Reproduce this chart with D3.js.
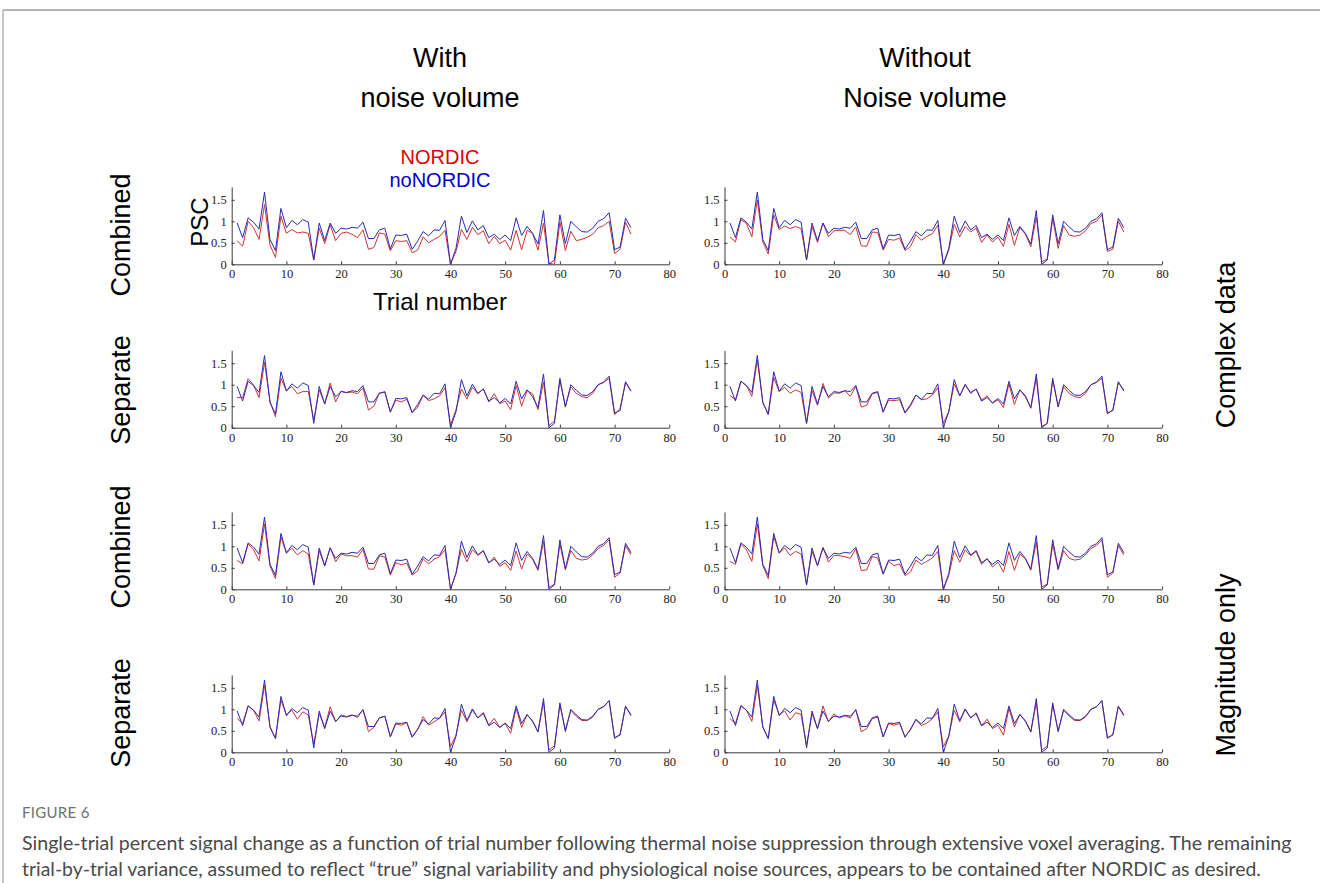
<!DOCTYPE html>
<html>
<head>
<meta charset="utf-8">
<script src="https://cdn.jsdelivr.net/npm/d3@7"></script>
<style>
  body { margin: 0; background: #fff; }
  svg { display: block; }
</style>
</head>
<body>
<svg id="chart" width="1320" height="883"></svg>
<script>
// Data: percent signal change per trial
var noNordic = [0.96,0.62,1.08,0.98,0.82,1.68,0.58,0.32,1.30,0.85,
  1.02,0.92,1.04,0.98,0.10,0.96,0.55,0.96,0.72,0.84,
  0.82,0.86,0.84,0.98,0.60,0.60,0.80,0.84,0.36,0.68,
  0.67,0.70,0.35,0.54,0.76,0.66,0.80,0.79,1.02,0.00,
  0.37,1.12,0.74,1.01,0.80,0.90,0.62,0.70,0.58,0.68,
  0.55,1.08,0.67,0.88,0.72,0.47,1.25,0.00,0.10,1.15,
  0.48,1.00,0.87,0.76,0.75,0.84,1.00,1.06,1.20,0.34,
  0.40,1.07,0.85];

var nordicComplexCombinedWith = [0.55,0.42,1.00,0.85,0.58,1.39,0.45,0.16,1.12,0.72,
  0.81,0.73,0.75,0.72,0.10,0.84,0.48,0.92,0.55,0.72,
  0.75,0.70,0.62,0.80,0.35,0.39,0.73,0.70,0.31,0.55,
  0.53,0.55,0.27,0.33,0.64,0.50,0.58,0.65,0.79,0.00,
  0.30,0.81,0.58,0.86,0.69,0.78,0.48,0.65,0.48,0.56,
  0.33,0.79,0.34,0.79,0.72,0.33,0.96,0.02,0.00,0.98,
  0.32,0.77,0.55,0.58,0.63,0.70,0.85,0.90,1.00,0.25,
  0.35,0.98,0.70];

var nordicComplexCombinedWithout = [0.64,0.52,1.04,0.95,0.64,1.50,0.52,0.24,1.15,0.81,
  0.89,0.83,0.88,0.83,0.10,0.88,0.51,0.96,0.64,0.78,
  0.79,0.79,0.69,0.87,0.43,0.42,0.75,0.74,0.33,0.58,
  0.56,0.61,0.32,0.41,0.69,0.56,0.65,0.71,0.91,0.00,
  0.33,0.93,0.64,0.88,0.75,0.84,0.51,0.68,0.52,0.63,
  0.42,0.93,0.44,0.86,0.70,0.41,1.10,0.06,0.12,1.06,
  0.37,0.90,0.68,0.65,0.68,0.78,0.95,1.00,1.15,0.30,
  0.35,1.00,0.75];

var nordicComplexSeparateWith = [0.70,0.70,1.14,0.99,0.70,1.52,0.62,0.25,1.15,0.86,
  0.96,0.79,0.84,0.84,0.18,0.88,0.56,1.04,0.60,0.85,
  0.81,0.83,0.79,0.93,0.41,0.50,0.81,0.82,0.37,0.64,
  0.60,0.66,0.35,0.48,0.75,0.63,0.67,0.74,0.93,0.06,
  0.42,0.90,0.67,0.94,0.79,0.90,0.60,0.79,0.56,0.62,
  0.42,0.98,0.50,0.86,0.79,0.42,1.06,0.05,0.15,1.10,
  0.50,0.95,0.80,0.72,0.70,0.80,1.00,1.05,1.15,0.30,
  0.45,1.05,0.85];

var nordicComplexSeparateWithout = [0.75,0.65,1.08,0.98,0.73,1.57,0.60,0.30,1.17,0.84,
  0.94,0.80,0.88,0.82,0.10,0.86,0.52,1.03,0.69,0.81,
  0.80,0.86,0.73,0.96,0.48,0.52,0.79,0.82,0.37,0.64,
  0.63,0.65,0.34,0.50,0.76,0.65,0.67,0.76,0.93,0.10,
  0.37,1.02,0.74,0.99,0.82,0.90,0.64,0.74,0.57,0.65,
  0.47,1.02,0.54,0.88,0.75,0.45,1.15,0.03,0.10,1.10,
  0.50,0.95,0.80,0.72,0.70,0.80,1.00,1.05,1.15,0.32,
  0.42,1.05,0.88];

var nordicMagCombinedWith = [0.67,0.59,1.05,0.92,0.66,1.52,0.54,0.25,1.21,0.84,
  0.96,0.80,0.90,0.82,0.10,0.90,0.54,0.97,0.64,0.82,
  0.78,0.78,0.75,0.93,0.47,0.47,0.78,0.75,0.33,0.62,
  0.57,0.61,0.33,0.43,0.71,0.59,0.70,0.76,0.92,0.00,
  0.37,0.93,0.64,0.92,0.79,0.89,0.61,0.75,0.53,0.62,
  0.44,0.89,0.47,0.82,0.70,0.44,1.11,0.04,0.12,1.05,
  0.45,0.90,0.72,0.68,0.70,0.80,0.95,1.02,1.15,0.28,
  0.38,1.02,0.80];

var nordicMagCombinedWithout = [0.65,0.58,1.05,0.92,0.65,1.52,0.55,0.25,1.22,0.84,
  0.96,0.79,0.88,0.82,0.11,0.88,0.55,0.98,0.63,0.79,
  0.78,0.76,0.72,0.94,0.44,0.45,0.76,0.73,0.35,0.65,
  0.55,0.59,0.32,0.40,0.68,0.58,0.65,0.73,0.88,0.00,
  0.32,0.90,0.63,0.92,0.78,0.88,0.58,0.72,0.52,0.63,
  0.40,0.88,0.44,0.82,0.71,0.44,1.10,0.05,0.12,1.05,
  0.45,0.90,0.72,0.68,0.70,0.80,0.95,1.02,1.15,0.28,
  0.38,1.02,0.80];

var nordicMagSeparateWith = [0.79,0.67,1.08,0.98,0.73,1.56,0.60,0.32,1.21,0.87,
  0.98,0.77,0.94,0.87,0.19,0.90,0.58,1.06,0.71,0.87,
  0.83,0.87,0.81,1.00,0.48,0.58,0.80,0.84,0.36,0.66,
  0.63,0.69,0.36,0.53,0.83,0.63,0.71,0.79,0.94,0.13,
  0.40,0.98,0.71,0.98,0.80,0.93,0.63,0.79,0.58,0.67,
  0.44,1.02,0.58,0.87,0.73,0.48,1.16,0.05,0.15,1.10,
  0.52,0.98,0.84,0.74,0.74,0.82,1.00,1.06,1.20,0.32,
  0.42,1.07,0.88];

var nordicMagSeparateWithout = [0.78,0.67,1.09,0.98,0.72,1.55,0.59,0.32,1.21,0.88,
  0.96,0.75,0.92,0.88,0.17,0.90,0.55,1.08,0.71,0.89,
  0.80,0.85,0.80,1.00,0.48,0.55,0.78,0.82,0.36,0.67,
  0.63,0.67,0.36,0.52,0.77,0.62,0.68,0.78,0.94,0.13,
  0.38,0.98,0.71,0.99,0.80,0.92,0.62,0.77,0.55,0.63,
  0.40,1.02,0.59,0.88,0.74,0.48,1.15,0.05,0.14,1.10,
  0.50,0.98,0.84,0.74,0.74,0.82,1.00,1.06,1.20,0.32,
  0.42,1.07,0.88];

var columnTitles = [["With", "noise volume"], ["Without", "Noise volume"]];
var rowLabels = ["Combined", "Separate", "Combined", "Separate"];
var groupLabels = ["Complex data", "Magnitude only"];
var xTicks = [0, 10, 20, 30, 40, 50, 60, 70, 80];
var yTicks = [0, 0.5, 1, 1.5];

// panels in reading order: row by row, left then right
var panels = [
  nordicComplexCombinedWith, nordicComplexCombinedWithout,
  nordicComplexSeparateWith, nordicComplexSeparateWithout,
  nordicMagCombinedWith, nordicMagCombinedWithout,
  nordicMagSeparateWith, nordicMagSeparateWithout
];

// Layout
const colLeft = [231.7, 724.5];
const rowBottom = [264.3, 427.7, 589.3, 752.3];
const plotW = 437.6;
const plotH = 77.4;
const redColor = "#cf3434";
const blueColor = "#2a2ab4";

const svg = d3.select("#chart");

// frame lines
svg.append("line").attr("x1", 3).attr("x2", 1320).attr("y1", 10).attr("y2", 10)
  .style("stroke", "#b5b5b5").style("stroke-width", 2);
svg.append("line").attr("x1", 3).attr("x2", 3).attr("y1", 10).attr("y2", 883)
  .style("stroke", "#b5b5b5").style("stroke-width", 1.5);

const xscale = d3.scaleLinear().domain([0, 80]).range([0, plotW]);
const yscale = d3.scaleLinear().domain([0, 1.8]).range([plotH, 0]);

var line = d3.line()
  .x(function(d, i) { return xscale(i + 1); })
  .y(function(d) { return yscale(d); });

const xaxis = d3.axisBottom(xscale).tickValues(xTicks).tickSizeInner(-3).tickSizeOuter(0).tickPadding(5);
const yaxis = d3.axisLeft(yscale).tickValues(yTicks).tickSizeInner(-3).tickSizeOuter(0).tickPadding(5)
  .tickFormat(d3.format("~g"));

panels.forEach(function(red, k) {
  var r = Math.floor(k / 2), c = k % 2;
  const g = svg.append("g")
    .attr("transform", `translate(${colLeft[c]}, ${rowBottom[r] - plotH})`);

  g.append("g").attr("class", "axis").attr("transform", `translate(0,${plotH})`).call(xaxis);
  g.append("g").attr("class", "axis").call(yaxis);

  g.append("path").datum(red).attr("d", line)
    .style("fill", "none").style("stroke", redColor).style("stroke-width", 1);
  g.append("path").datum(noNordic).attr("d", line)
    .style("fill", "none").style("stroke", blueColor).style("stroke-width", 1);
});

svg.selectAll(".axis path, .axis line").style("stroke", "#3a3a3a").style("stroke-width", 1);
svg.selectAll(".axis text")
  .style("font-family", "'Liberation Serif', 'DejaVu Serif', serif")
  .style("font-size", "12.5px").style("fill", "#222");

// Column titles
const sans = "'Liberation Sans', Arial, sans-serif";
columnTitles.forEach(function(t, c) {
  var cx = [440, 925][c];
  svg.append("text").attr("x", cx).attr("y", 67).attr("text-anchor", "middle")
    .style("font-family", sans).style("font-size", "27px").text(t[0]);
  svg.append("text").attr("x", cx).attr("y", 107).attr("text-anchor", "middle")
    .style("font-family", sans).style("font-size", "27px").text(t[1]);
});

// Legend
svg.append("text").attr("x", 440).attr("y", 164).attr("text-anchor", "middle")
  .style("font-family", sans).style("font-size", "20px").style("fill", "#e00000").text("NORDIC");
svg.append("text").attr("x", 440).attr("y", 187).attr("text-anchor", "middle")
  .style("font-family", sans).style("font-size", "20px").style("fill", "#0000d2").text("noNORDIC");

// Axis titles on the first panel
svg.append("text").attr("transform", "translate(208, 222) rotate(-90)").attr("text-anchor", "middle")
  .style("font-family", sans).style("font-size", "24px").text("PSC");
svg.append("text").attr("x", 440).attr("y", 310).attr("text-anchor", "middle")
  .style("font-family", sans).style("font-size", "24px").text("Trial number");

// Row labels
var rowCenters = [235, 390, 547, 713];
rowLabels.forEach(function(t, r) {
  svg.append("text").attr("transform", `translate(130, ${rowCenters[r]}) rotate(-90)`)
    .attr("text-anchor", "middle")
    .style("font-family", sans).style("font-size", "27px").text(t);
});

var groupCenters = [345, 665];
groupLabels.forEach(function(t, i) {
  svg.append("text").attr("transform", `translate(1235, ${groupCenters[i]}) rotate(-90)`)
    .attr("text-anchor", "middle")
    .style("font-family", sans).style("font-size", "27px").text(t);
});

// Caption
const capFont = "Lato, 'Open Sans', sans-serif";
svg.append("text").attr("x", 22).attr("y", 818)
  .style("font-family", capFont).style("font-size", "15px").style("fill", "#707070")
  .style("letter-spacing", "0.3px").text("FIGURE 6");
svg.append("text").attr("x", 22).attr("y", 850)
  .style("font-family", capFont).style("font-size", "19.6px").style("fill", "#4a4a4a")
  .text("Single-trial percent signal change as a function of trial number following thermal noise suppression through extensive voxel averaging. The remaining");
svg.append("text").attr("x", 22).attr("y", 876)
  .style("font-family", capFont).style("font-size", "19.4px").style("fill", "#4a4a4a")
  .text("trial-by-trial variance, assumed to reflect \u201Ctrue\u201D signal variability and physiological noise sources, appears to be contained after NORDIC as desired.");
</script>
</body>
</html>
